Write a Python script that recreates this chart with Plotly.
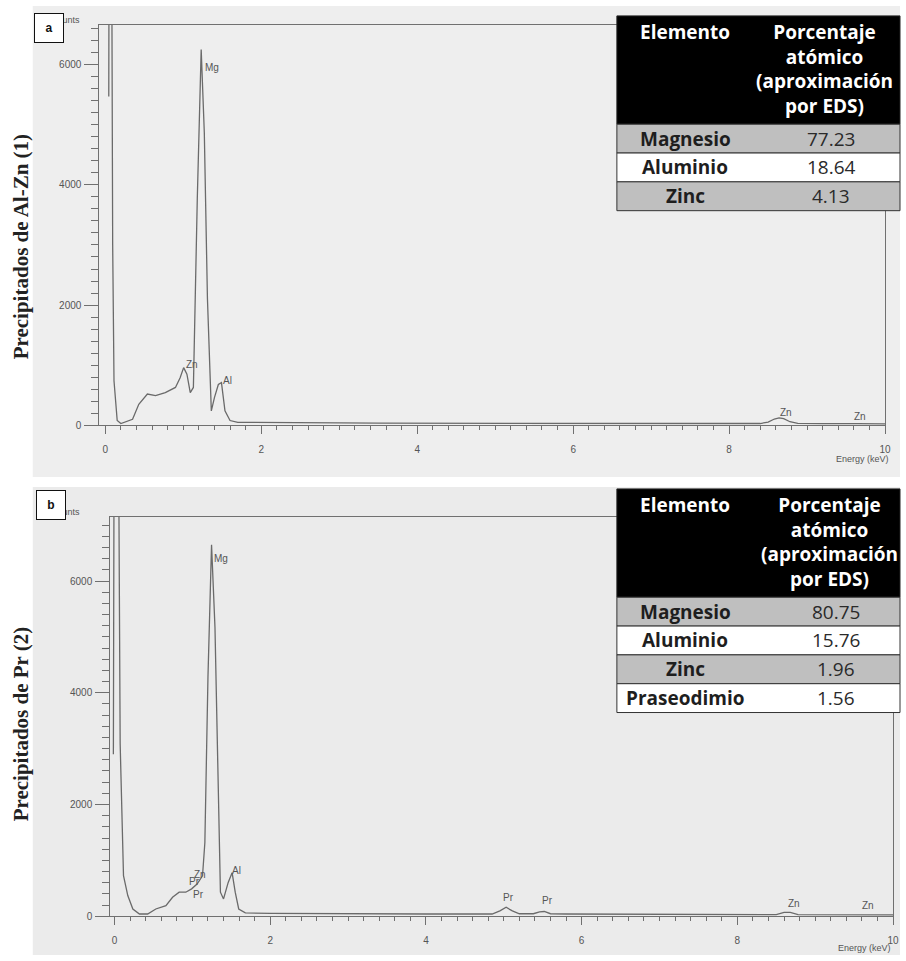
import plotly.graph_objects as go

W, H = 906, 961

# ---------------- data ----------------
energy_a = [0.045, 0.05, 0.08, 0.095, 0.112, 0.153, 0.2, 0.35, 0.43, 0.54, 0.645, 0.77, 0.9,
            0.96, 1.005, 1.047, 1.09, 1.13, 1.18, 1.23, 1.27, 1.31, 1.36, 1.40, 1.45, 1.49,
            1.535, 1.6, 1.7, 2.0, 2.5, 3.0, 3.5, 4.0, 4.5, 5.0, 5.5, 6.0, 6.5, 7.0, 7.5, 8.0,
            8.4, 8.5, 8.58, 8.64, 8.70, 8.78, 8.88, 9.2, 9.5, 9.57, 9.65, 10.0]
counts_a = [5470, 9000, 9000, 3000, 740, 80, 30, 100, 350, 520, 495, 545, 630,
            790, 960, 850, 545, 630, 3770, 6250, 4870, 2115, 240, 460, 680, 710,
            240, 80, 50, 45, 40, 40, 35, 35, 35, 32, 30, 30, 28, 28, 26, 26,
            30, 55, 105, 125, 110, 60, 32, 28, 28, 40, 28, 25]

energy_b = [-0.015, -0.005, 0.05, 0.072, 0.115, 0.17, 0.235, 0.32, 0.425, 0.53, 0.66, 0.745,
            0.83, 0.915, 0.99, 1.06, 1.13, 1.16, 1.20, 1.246, 1.29, 1.33, 1.36, 1.40, 1.46,
            1.51, 1.55, 1.595, 1.68, 2.0, 2.5, 3.0, 3.5, 4.0, 4.5, 4.85, 4.95, 5.03, 5.11,
            5.2, 5.38, 5.46, 5.52, 5.6, 5.8, 6.5, 7.0, 7.5, 8.0, 8.5, 8.6, 8.68, 8.78, 9.2,
            9.57, 9.7, 10.0]
counts_b = [2900, 9000, 9000, 3090, 725, 370, 130, 40, 40, 130, 190, 340,
            430, 430, 490, 575, 725, 1315, 4280, 6650, 5170, 2500, 430, 310, 605,
            780, 430, 130, 60, 50, 45, 45, 42, 40, 40, 40, 95, 160, 95,
            45, 45, 80, 85, 45, 40, 35, 32, 30, 30, 30, 70, 70, 30, 28,
            38, 26, 25]

peak_labels_a = ["Mg", "Zn", "Al", "Zn", "Zn"]
peak_x_a = [1.254, 1.012, 1.486, 8.63, 9.57]
peak_y_a = [5950, 1010, 750, 215, 150]

peak_labels_b = ["Mg", "Zn", "Pr", "Pr", "Al", "Pr", "Pr", "Zn", "Zn"]
peak_x_b = [1.254, 0.995, 0.929, 0.98, 1.486, 4.96, 5.46, 8.62, 9.57]
peak_y_b = [6400, 750, 620, 390, 820, 330, 280, 220, 190]

x_ticks = [0, 2, 4, 6, 8, 10]
y_ticks = [0, 2000, 4000, 6000]

table_header = ["Elemento", "Porcentaje<br>atómico<br>(aproximación<br>por EDS)"]
elements_a = ["Magnesio", "Aluminio", "Zinc"]
percent_a = [77.23, 18.64, 4.13]
elements_b = ["Magnesio", "Aluminio", "Zinc", "Praseodimio"]
percent_b = [80.75, 15.76, 1.96, 1.56]

panel_titles = ["Precipitados de Al-Zn (1)", "Precipitados de Pr (2)"]
panel_letters = ["a", "b"]


# ---------------- helpers ----------------
def px(x):
    return x / W


def py(y):
    return 1 - y / H


LINE = "#6a6a6a"
AX = "#707070"
TXT = "#555555"

fig = go.Figure()
fig.add_trace(go.Scatter(x=energy_a, y=counts_a, mode="lines", xaxis="x", yaxis="y",
                         line=dict(color=LINE, width=1.3), hoverinfo="skip", showlegend=False))
fig.add_trace(go.Scatter(x=energy_b, y=counts_b, mode="lines", xaxis="x2", yaxis="y2",
                         line=dict(color=LINE, width=1.3), hoverinfo="skip", showlegend=False))


def xax(domain, rng, anchor):
    return dict(domain=domain, range=rng, anchor=anchor, tickmode="array", tickvals=x_ticks,
                ticks="outside", ticklen=8, tickcolor=AX, tickwidth=1,
                showline=True, linecolor=AX, linewidth=1, mirror=True,
                showgrid=False, zeroline=False, ticklabelstandoff=7,
                tickfont=dict(family="Liberation Sans, Arial", size=10, color=TXT),
                minor=dict(tickmode="linear", tick0=0, dtick=0.2, ticks="outside",
                           ticklen=4, tickcolor=AX, showgrid=False))


def yax(domain, rng, anchor):
    return dict(domain=domain, range=rng, anchor=anchor, tickmode="array", tickvals=y_ticks,
                ticks="outside", ticklen=14, tickcolor=AX, tickwidth=1,
                showline=True, linecolor=AX, linewidth=1, mirror=True,
                showgrid=False, zeroline=False, ticklabelstandoff=1,
                tickfont=dict(family="Liberation Sans, Arial", size=10, color=TXT),
                minor=dict(tickmode="linear", tick0=0, dtick=200, ticks="outside",
                           ticklen=7, tickcolor=AX, showgrid=False))


shapes = []
annotations = []

# paper background of the two scans
shapes.append(dict(type="rect", xref="paper", yref="paper", x0=px(33), x1=px(906),
                   y0=py(480), y1=py(6), fillcolor="#eeeeee", line=dict(width=0), layer="below"))
shapes.append(dict(type="rect", xref="paper", yref="paper", x0=px(33), x1=px(906),
                   y0=py(961), y1=py(490), fillcolor="#ebebeb", line=dict(width=0), layer="below"))

# peak labels
for lab, xv, yv in zip(peak_labels_a, peak_x_a, peak_y_a):
    annotations.append(dict(x=xv, y=yv, xref="x", yref="y", text=lab, showarrow=False,
                            xanchor="left", yanchor="middle",
                            font=dict(family="Liberation Sans, Arial", size=10, color=TXT)))
for lab, xv, yv in zip(peak_labels_b, peak_x_b, peak_y_b):
    annotations.append(dict(x=xv, y=yv, xref="x2", yref="y2", text=lab, showarrow=False,
                            xanchor="left", yanchor="middle",
                            font=dict(family="Liberation Sans, Arial", size=10, color=TXT)))

# panel furniture
panel_geo = [
    dict(title_y=248, counts_y=20, letter=(49, 28), energy=(897, 462)),
    dict(title_y=728, counts_y=515, letter=(51, 508), energy=(899, 954)),
]
for i, g in enumerate(panel_geo):
    annotations.append(dict(x=px(22), y=py(g["title_y"]), xref="paper", yref="paper",
                            text="<b>%s</b>" % panel_titles[i], textangle=-90, showarrow=False,
                            xanchor="center", yanchor="middle",
                            font=dict(family="Liberation Serif, Times New Roman, serif",
                                      size=21, color="#222222")))
    annotations.append(dict(x=px(83), y=py(g["counts_y"]), xref="paper", yref="paper",
                            text="Counts", showarrow=False, xanchor="right", yanchor="middle",
                            font=dict(family="Liberation Sans, Arial", size=9, color=TXT)))
    annotations.append(dict(x=px(g["letter"][0]), y=py(g["letter"][1]), xref="paper",
                            yref="paper", text="<b>%s</b>" % panel_letters[i], showarrow=False,
                            xanchor="center", yanchor="middle",
                            width=26, height=26, bgcolor="white", bordercolor="#111111",
                            borderwidth=1, borderpad=1,
                            font=dict(family="Liberation Sans, Arial", size=12, color="#111111")))
    annotations.append(dict(x=px(g["energy"][0]), y=py(g["energy"][1]), xref="paper",
                            yref="paper", text="Energy (keV)", showarrow=False,
                            xanchor="right", yanchor="middle",
                            font=dict(family="Liberation Sans, Arial", size=9, color=TXT)))

# tables
TFONT = "Open Sans, Noto Sans, sans-serif"
tables = [
    dict(top=16, names=elements_a, vals=percent_a, c1=690, c2=830),
    dict(top=492, names=elements_b, vals=percent_b, c1=690, c2=835),
]
HEAD_H = 109
ROW_H = 29
for t in tables:
    left, right = 621, 906
    top = t["top"]
    hb = top + HEAD_H
    shapes.append(dict(type="rect", xref="paper", yref="paper", x0=px(left), x1=px(right),
                       y0=py(hb), y1=py(top), fillcolor="black",
                       line=dict(color="#222222", width=1), layer="above"))
    annotations.append(dict(x=px(t["c1"]), y=py(top + 1), xref="paper", yref="paper",
                            text="<b>%s</b>" % table_header[0], showarrow=False,
                            xanchor="center", yanchor="top",
                            font=dict(family=TFONT, size=19, color="white")))
    annotations.append(dict(x=px(t["c2"]), y=py(top + 1), xref="paper", yref="paper",
                            text="<b>%s</b>" % table_header[1], showarrow=False,
                            xanchor="center", yanchor="top", align="center",
                            font=dict(family=TFONT, size=19, color="white")))
    for r, (nm, v) in enumerate(zip(t["names"], t["vals"])):
        y0 = hb + r * ROW_H
        y1 = y0 + ROW_H
        fill = "#bfbfbf" if r % 2 == 0 else "white"
        shapes.append(dict(type="rect", xref="paper", yref="paper", x0=px(left), x1=px(right),
                           y0=py(y1), y1=py(y0), fillcolor=fill,
                           line=dict(color="#333333", width=1), layer="above"))
        annotations.append(dict(x=px(t["c1"]), y=py((y0 + y1) / 2), xref="paper", yref="paper",
                                text="<b>%s</b>" % nm, showarrow=False,
                                xanchor="center", yanchor="middle",
                                font=dict(family=TFONT, size=19, color="#1e1e1e")))
        annotations.append(dict(x=px(t["c2"] + 7), y=py((y0 + y1) / 2), xref="paper",
                                yref="paper", text="%.2f" % v, showarrow=False,
                                xanchor="center", yanchor="middle",
                                font=dict(family=TFONT, size=19, color="#2a2a2a")))

fig.update_layout(
    width=W, height=H, margin=dict(l=0, r=0, t=0, b=0),
    paper_bgcolor="white", plot_bgcolor="rgba(0,0,0,0)",
    showlegend=False,
    xaxis=xax([px(100), px(891)], [-0.076, 10.0], "y"),
    yaxis=yax([py(428), py(25)], [0, 6661], "x"),
    xaxis2=xax([px(111), px(899)], [-0.055, 10.0], "y2"),
    yaxis2=yax([py(922), py(520)], [0, 7150], "x2"),
    shapes=shapes,
    annotations=annotations,
)

fig.write_html("out.html")
